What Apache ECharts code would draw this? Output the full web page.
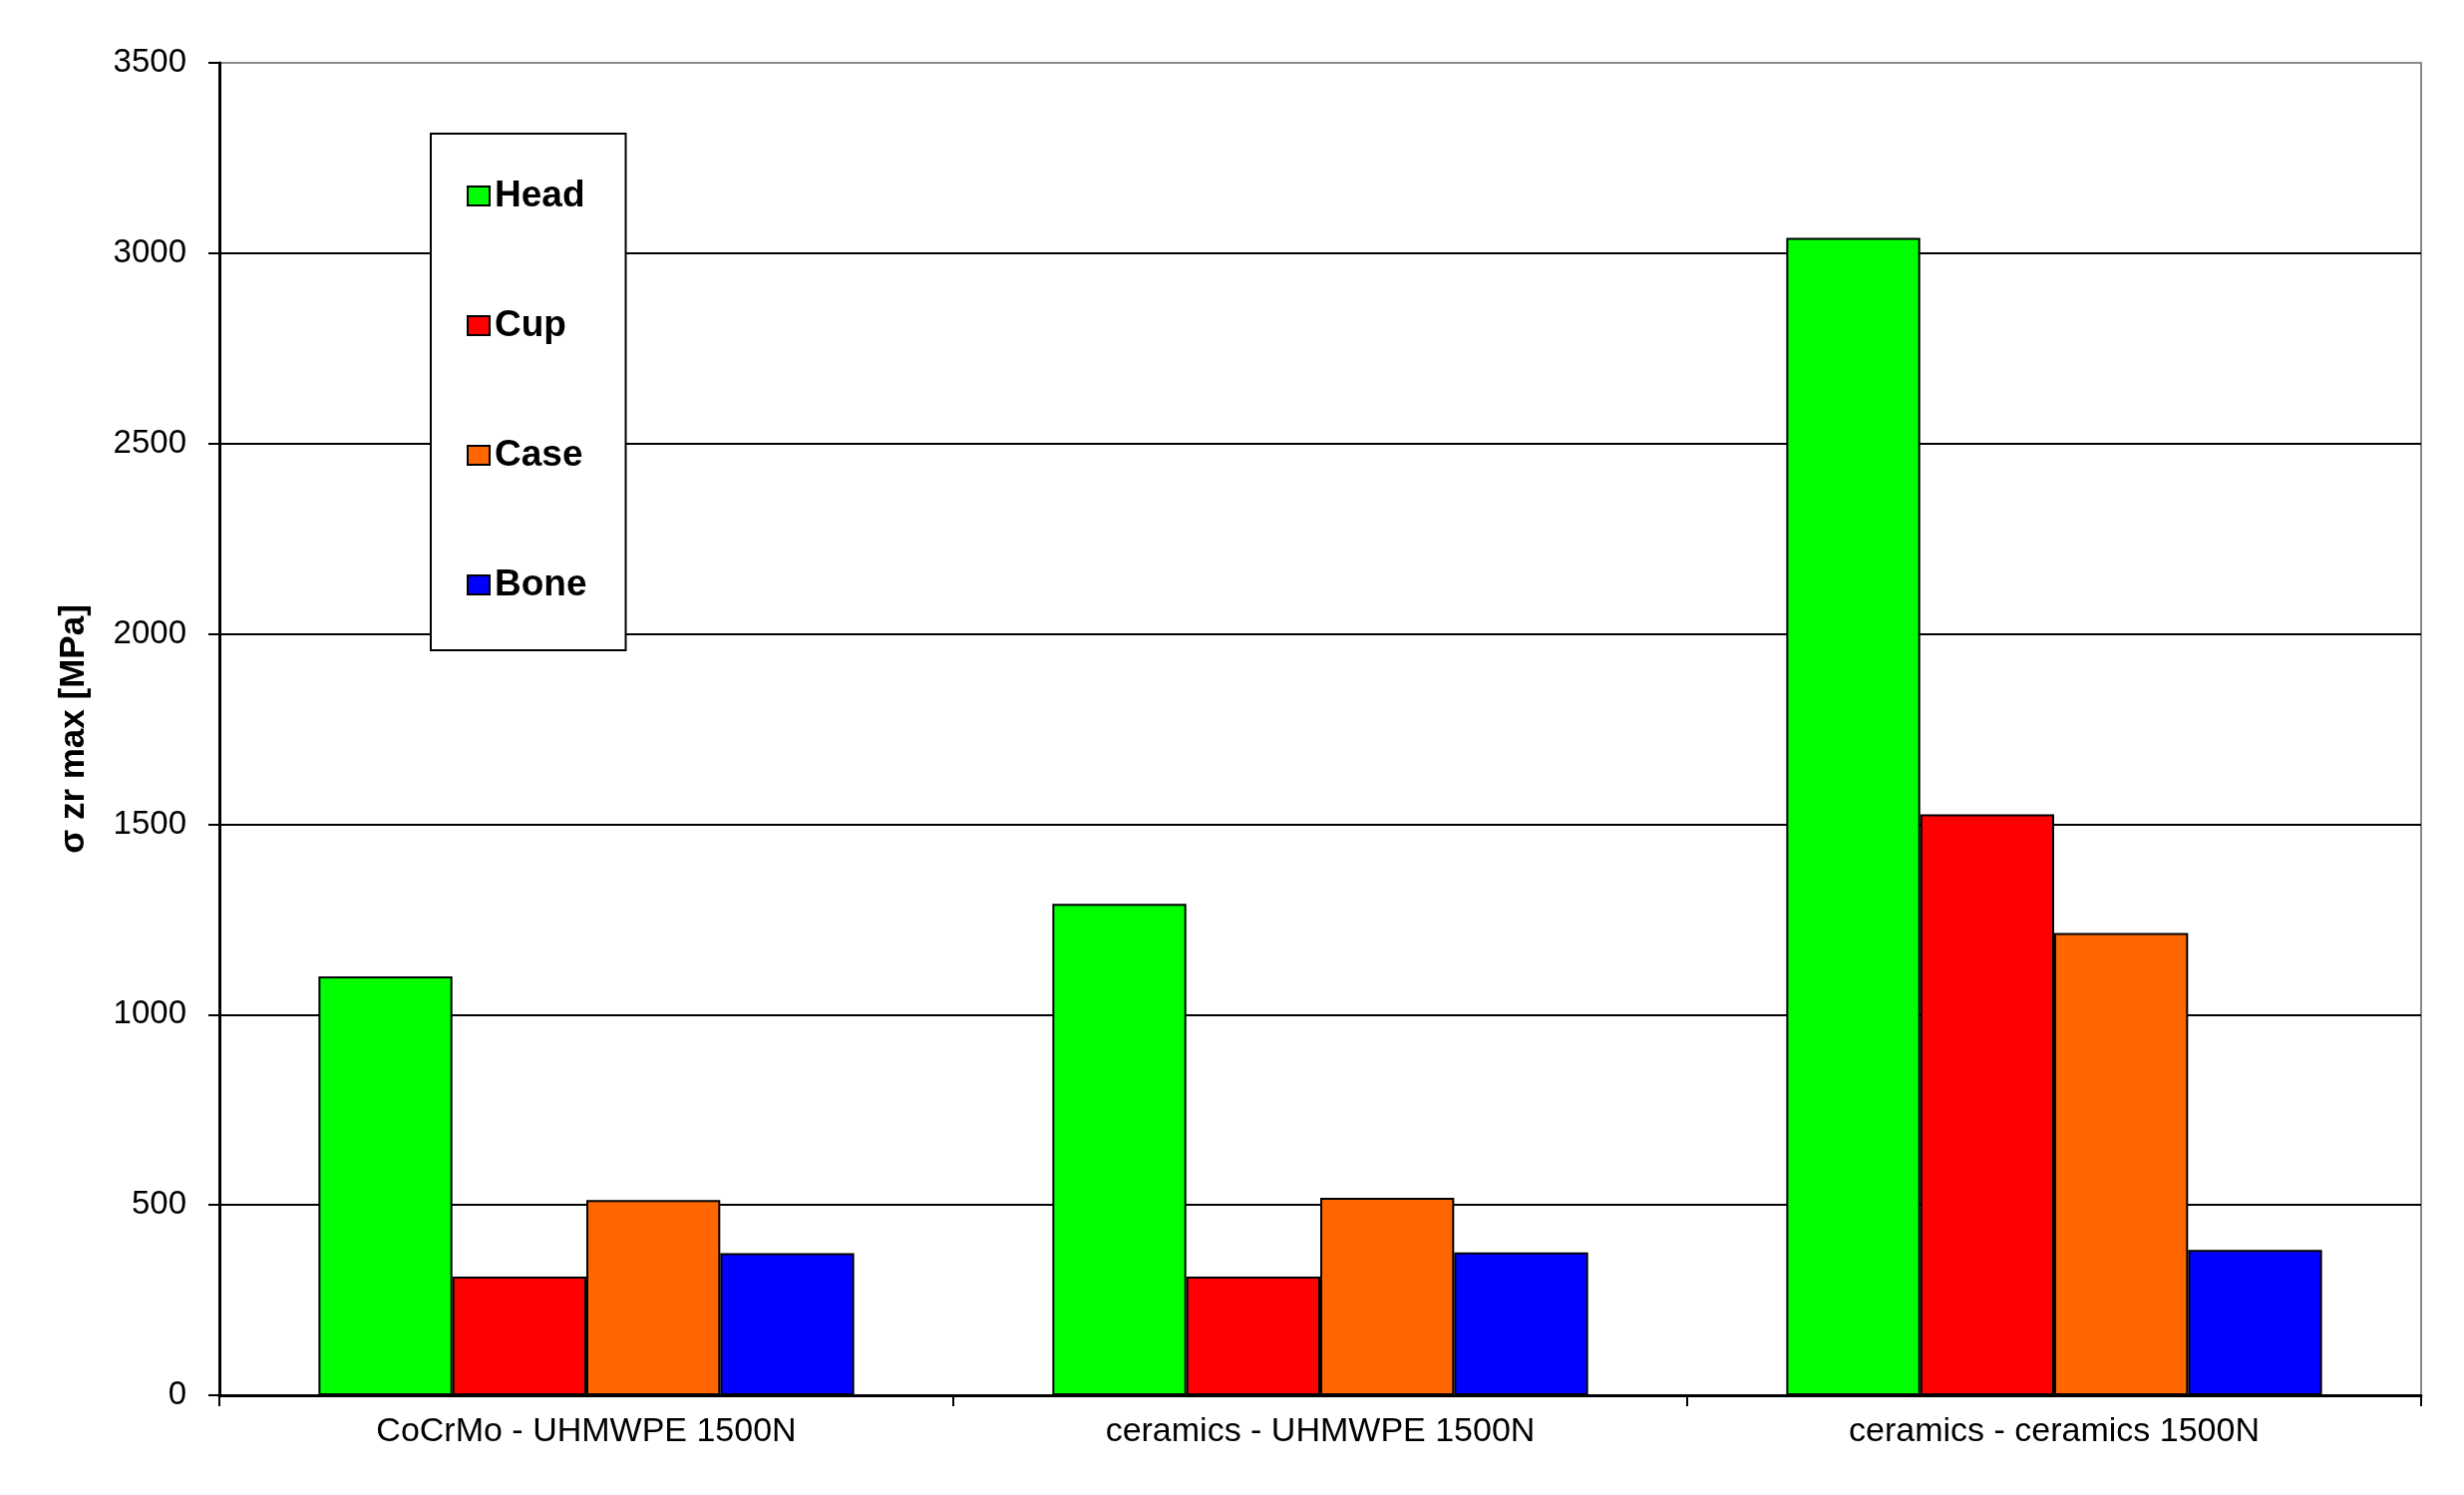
<!DOCTYPE html>
<html>
<head>
<meta charset="utf-8">
<script src="https://cdn.jsdelivr.net/npm/echarts@6/dist/echarts.min.js"></script>
<style>
  html, body { margin: 0; padding: 0; background: #fff; }
  #chart { width: 2471px; height: 1499px; }
</style>
</head>
<body>
<div id="chart"></div>
<script>
// categories and values
const categories = ['CoCrMo - UHMWPE 1500N', 'ceramics - UHMWPE 1500N', 'ceramics - ceramics 1500N'];
const seriesNames = ['Head', 'Cup', 'Case', 'Bone'];
const headValues = [1100, 1291, 3040];
const cupValues = [312, 312, 1526];
const caseValues = [513, 519, 1214];
const boneValues = [373, 375, 382];
const colors = ['#00ff00', '#ff0000', '#ff6600', '#0000ff'];

const font = '"Liberation Sans", Arial, sans-serif';
const allValues = [headValues, cupValues, caseValues, boneValues];

let chart = echarts.init(document.getElementById('chart'));

chart.setOption({
    animation: false,
    backgroundColor: '#fff',
    grid: {
        left: 220,
        right: 43,
        top: 63,
        bottom: 100,
        show: true,
        borderColor: '#888',
        borderWidth: 2
    },
    legend: {
        orient: 'vertical',
        left: 432,
        top: 134,
        data: seriesNames,
        icon: 'rect',
        backgroundColor: '#fff',
        borderColor: '#000',
        borderWidth: 2,
        padding: [44, 39, 47, 36],
        itemGap: 93,
        itemWidth: 22,
        itemHeight: 19,
        itemStyle: { borderColor: '#000', borderWidth: 2 },
        textStyle: {
            fontFamily: font,
            fontSize: 37,
            fontWeight: 'bold',
            color: '#000',
            lineHeight: 37
        }
    },
    xAxis: {
        type: 'category',
        data: categories,
        boundaryGap: true,
        axisLine: { lineStyle: { color: '#000', width: 3 } },
        axisTick: { show: true, length: 11, lineStyle: { color: '#000', width: 2 } },
        axisLabel: {
            fontFamily: font,
            fontSize: 34,
            color: '#000',
            margin: 20
        },
        splitLine: { show: false }
    },
    yAxis: {
        type: 'value',
        min: 0,
        max: 3500,
        interval: 500,
        name: 'σ zr max [MPa]',
        nameLocation: 'middle',
        nameRotate: 90,
        nameGap: 128,
        nameTextStyle: {
            fontFamily: font,
            fontSize: 35,
            fontWeight: 'bold',
            color: '#000'
        },
        axisLine: { show: true, lineStyle: { color: '#000', width: 3 } },
        axisTick: { show: true, length: 11, lineStyle: { color: '#000', width: 2 } },
        axisLabel: {
            fontFamily: font,
            fontSize: 33,
            color: '#000',
            margin: 33,
            formatter: (v) => String(v)
        },
        splitLine: {
            show: true,
            lineStyle: {
                color: ['#000', '#000', '#000', '#000', '#000', '#000', '#000', '#888'],
                width: 2
            }
        }
    },
    series: seriesNames.map((name, i) => ({
        name: name,
        type: 'bar',
        data: allValues[i],
        barGap: '0%',
        barCategoryGap: '27%',
        itemStyle: {
            color: colors[i],
            borderColor: '#000',
            borderWidth: 2
        }
    }))
});
</script>
</body>
</html>
